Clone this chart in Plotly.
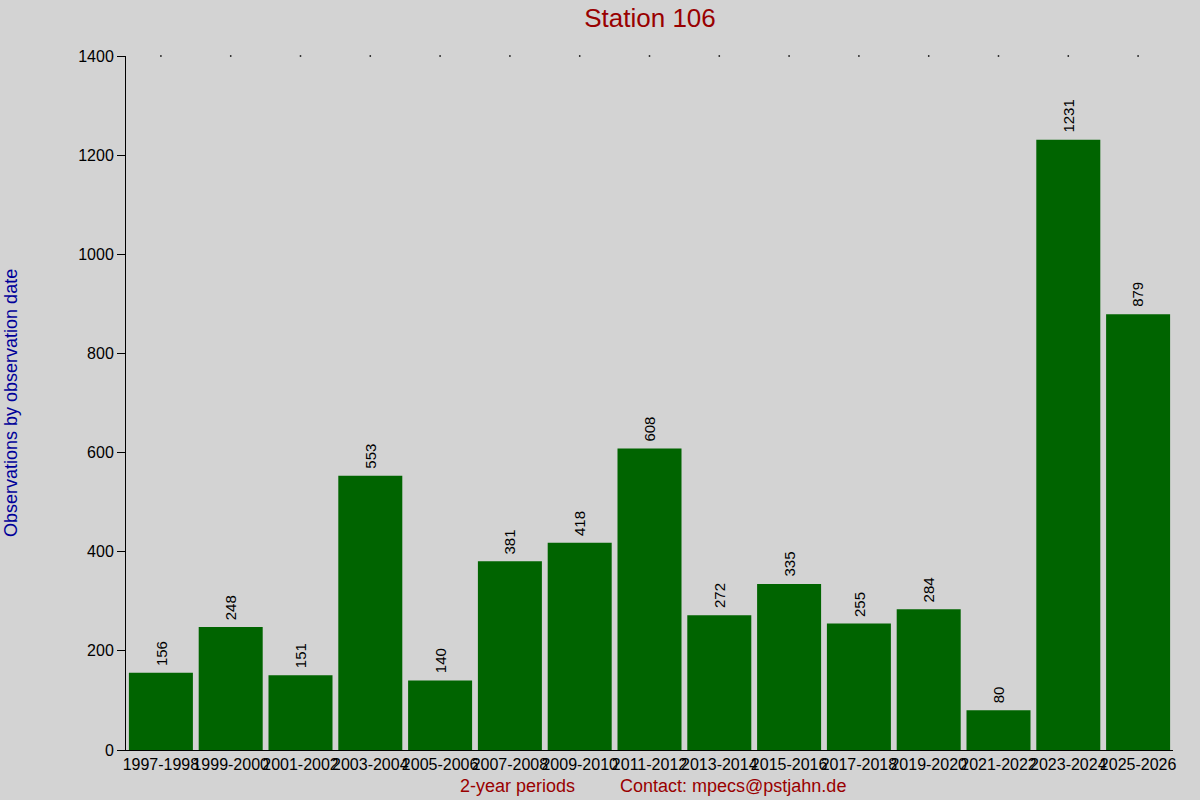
import plotly.graph_objects as go

periods = ["1997-1998", "1999-2000", "2001-2002", "2003-2004", "2005-2006",
           "2007-2008", "2009-2010", "2011-2012", "2013-2014", "2015-2016",
           "2017-2018", "2019-2020", "2021-2022", "2023-2024", "2025-2026"]
counts = [156, 248, 151, 553, 140, 381, 418, 608, 272, 335, 255, 284, 80, 1231, 879]

y_max = 1400
y_ticks = [0, 200, 400, 600, 800, 1000, 1200, 1400]

font = "Liberation Sans, Arial, sans-serif"

fig = go.Figure()

fig.add_trace(go.Bar(
    x=periods,
    y=counts,
    marker=dict(color="#006400", line=dict(width=0)),
    hoverinfo="x+y",
))

# small tick dots along the top edge
fig.add_trace(go.Scatter(
    x=periods,
    y=[y_max] * len(periods),
    mode="markers",
    marker=dict(color="black", size=1.5, symbol="square"),
    cliponaxis=False,
    hoverinfo="skip",
    showlegend=False,
))

# value labels above the bars, rotated
for p, c in zip(periods, counts):
    fig.add_annotation(
        x=p, y=c, text=str(c), textangle=-90,
        xanchor="center", yanchor="bottom", yshift=5,
        showarrow=False,
        font=dict(family=font, size=15, color="black"),
    )

# plot area: x 126..1173, y 56..750
plot_w = 1200 - 126 - 27
plot_h = 800 - 56 - 50

fig.update_layout(
    width=1200,
    height=800,
    paper_bgcolor="#d3d3d3",
    plot_bgcolor="#d3d3d3",
    margin=dict(l=126, r=27, t=56, b=50),
    bargap=0.083,
    showlegend=False,
    font=dict(family=font, size=16, color="black"),
    title=dict(
        text="Station 106",
        x=650 / 1200, xanchor="center",
        y=1 - 18 / 800, yanchor="middle",
        font=dict(family=font, size=26, color="#990000"),
    ),
    xaxis=dict(
        type="category",
        range=[-0.5, len(periods) - 0.5],
        showgrid=False,
        showline=True,
        linecolor="black",
        linewidth=1,
        ticks="",
        tickangle=0,
        tickfont=dict(family=font, size=16, color="black"),
        zeroline=False,
    ),
    yaxis=dict(
        range=[0, y_max],
        tickvals=y_ticks,
        showgrid=False,
        showline=True,
        linecolor="black",
        linewidth=1,
        ticks="outside",
        ticklen=8,
        tickcolor="black",
        tickfont=dict(family=font, size=16, color="black"),
        zeroline=False,
    ),
)

fig.add_annotation(text="Observations by observation date", textangle=-90,
                   xref="paper", yref="paper", x=(11 - 126) / plot_w, y=(750 - 403) / plot_h,
                   xanchor="center", yanchor="middle", showarrow=False,
                   font=dict(family=font, size=18, color="#000099"))
fig.add_annotation(text="2-year periods", xref="paper", yref="paper",
                   x=(517 - 126) / plot_w, y=(750 - 786) / plot_h, xanchor="center", yanchor="middle",
                   showarrow=False, font=dict(family=font, size=18, color="#990000"))
fig.add_annotation(text="Contact: mpecs@pstjahn.de", xref="paper", yref="paper",
                   x=(733 - 126) / plot_w, y=(750 - 786) / plot_h, xanchor="center", yanchor="middle",
                   showarrow=False, font=dict(family=font, size=18, color="#990000"))

fig.write_html("out.html", config={"displayModeBar": False},
               post_script="document.body.style.margin='0';")
